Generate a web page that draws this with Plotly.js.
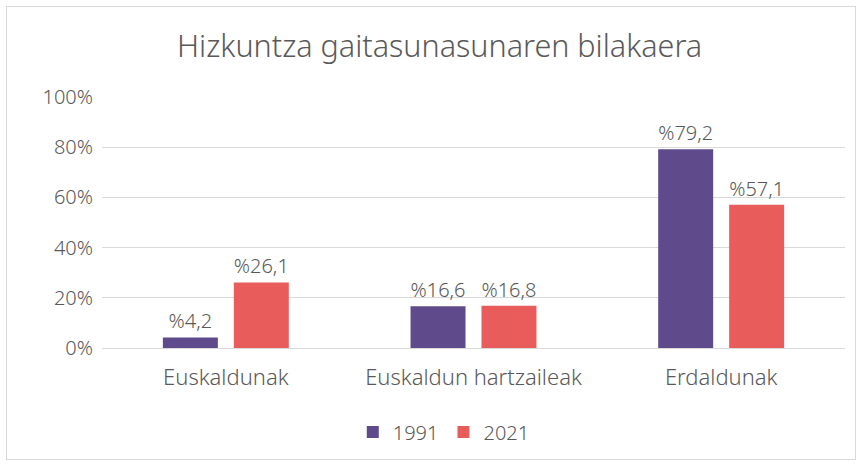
<!DOCTYPE html>
<html><head><meta charset="utf-8">
<script src="https://cdn.plot.ly/plotly-3.0.1.min.js"></script>
<style>
html,body{margin:0;padding:0;background:#fff;}
#wrap{position:relative;width:862px;height:466px;}
#chart{position:absolute;left:0;top:0;width:862px;height:466px;}
#frame{position:absolute;left:6px;top:6px;width:848px;height:452px;border:1px solid #d9d9d9;pointer-events:none;}
</style></head>
<body><div id="wrap"><div id="chart"></div><div id="frame"></div></div>
<script>
var categories = ['Euskaldunak', 'Euskaldun hartzaileak', 'Erdaldunak'];
var series1991 = [4.2, 16.6, 79.2];
var series2021 = [26.1, 16.8, 57.1];
var seriesNames = ['1991', '2021'];
var tickVals = [0, 20, 40, 60, 80, 100];
var tickText = ['0%', '20%', '40%', '60%', '80%', '100%'];

function lab(v){ return '%' + v.toFixed(1).replace('.', ','); }
var fontFam = 'Noto Sans, Open Sans, sans-serif';
var txtCol = '#595959';
var w = 300;

var traces = [
  {type:'bar', name:seriesNames[0], x:categories, y:series1991, text:series1991.map(lab),
   textposition:'outside', cliponaxis:false, marker:{color:'#5F4B8B'},
   textfont:{family:fontFam, size:20, color:txtCol, weight:w}, hoverinfo:'none'},
  {type:'bar', name:seriesNames[1], x:categories, y:series2021, text:series2021.map(lab),
   textposition:'outside', cliponaxis:false, marker:{color:'#E95C5C'},
   textfont:{family:fontFam, size:20, color:txtCol, weight:w}, hoverinfo:'none'}
];
var layout = {
  width:862, height:466,
  margin:{l:102, r:17, t:97, b:118},
  paper_bgcolor:'#fff', plot_bgcolor:'#fff',
  font:{family:fontFam, color:txtCol, weight:w},
  title:{text:'Hizkuntza gaitasunasunaren bilakaera', x:0.51, xanchor:'center', y:0.9, yanchor:'middle',
         font:{family:fontFam, size:30.5, color:txtCol, weight:w}},
  barmode:'group', bargap:0.427, bargroupgap:0.225,
  xaxis:{type:'category', showgrid:false, showline:false, ticks:'', ticklabelstandoff:14,
         tickfont:{size:22, color:txtCol, weight:w}},
  yaxis:{range:[0,100], tickvals:tickVals, ticktext:tickText, showgrid:true, gridcolor:'#d9d9d9', gridwidth:1,
         zeroline:true, zerolinecolor:'#d9d9d9', zerolinewidth:1, showline:false, ticks:'', ticklen:0,
         ticklabelstandoff:8, tickfont:{size:20, color:txtCol, weight:w}, automargin:false},
  showlegend:true,
  legend:{orientation:'h', x:0.46, xanchor:'center', y:-0.335, yanchor:'middle',
          font:{size:20, color:txtCol, weight:w}, traceorder:'normal', itemwidth:30}
};
Plotly.newPlot('chart', traces, layout, {staticPlot:true, displayModeBar:false});
</script></body></html>
